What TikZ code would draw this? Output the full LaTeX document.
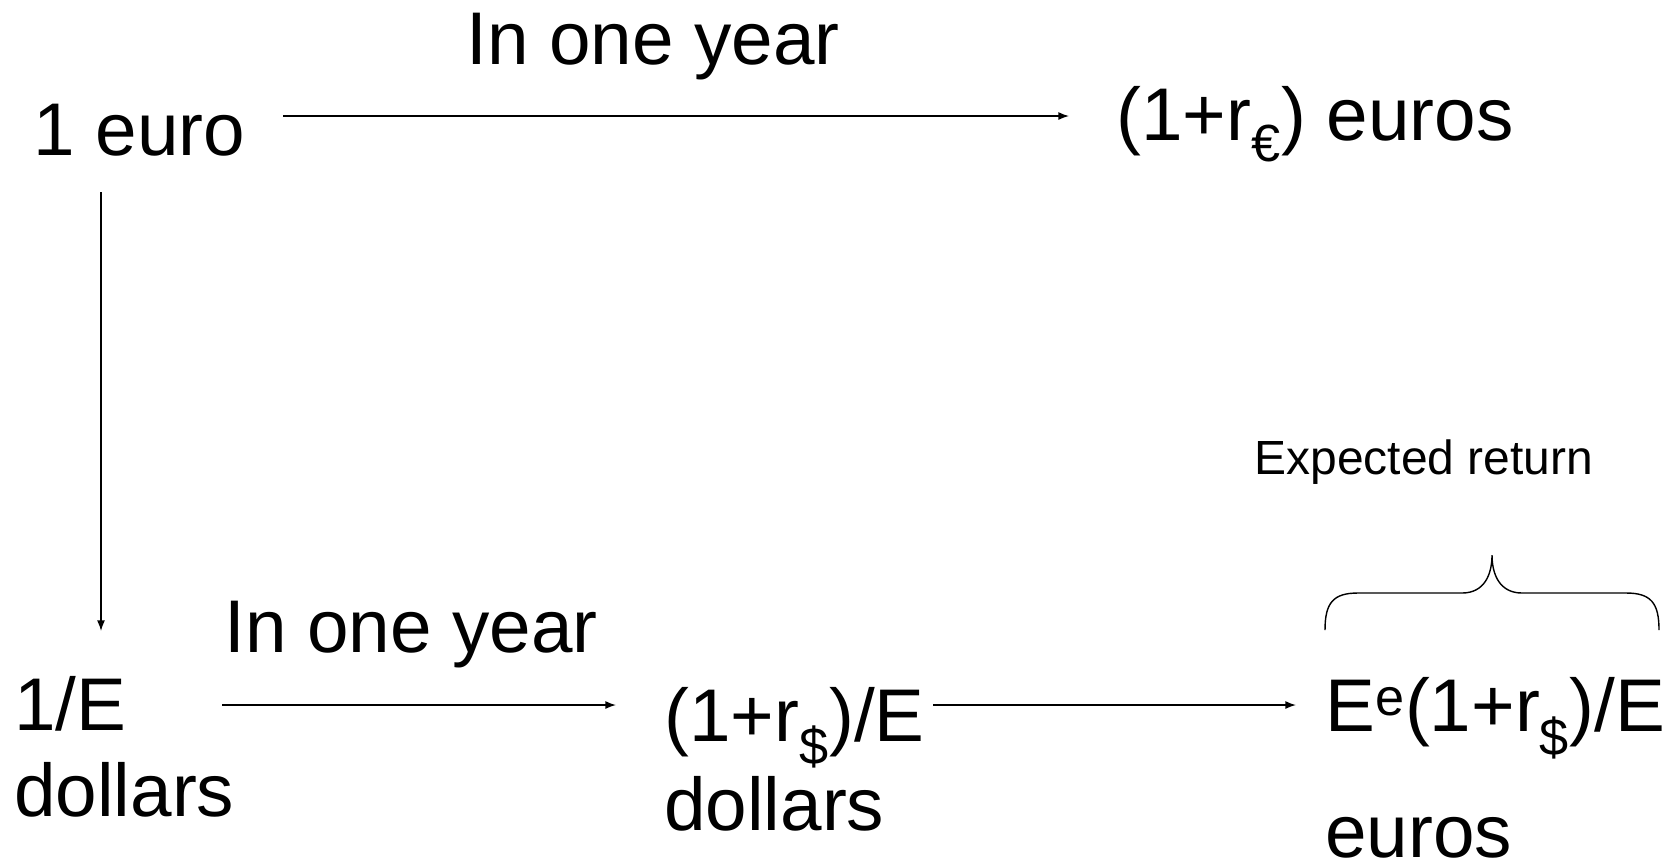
\documentclass[tikz,border=0pt]{standalone}
\usepackage{fontspec}
\setmainfont{Liberation Sans}
\usepackage{tikz}
\usetikzlibrary{arrows.meta, positioning, calc}

\tikzset{
    txt/.style={inner sep=0, anchor=base west, align=left, font=\fontsize{42.5}{49}\selectfont},
    small/.style={inner sep=0, anchor=base west, font=\fontsize{27.3}{32}\selectfont},
    arr/.style={line width=0.8pt, -{Latex[length=6pt, width=4.5pt]}}
}

\begin{document}
\begin{tikzpicture}[x=0.02cm, y=-0.02cm]
    \useasboundingbox (0,0) rectangle (1672,867);

    % Top row
    \node[txt] (euro) at (33,155) {1 euro};
    \node[txt] (reur) at (1116,140) {(1+r\textsubscript{€}) euros};
    \node[txt] (yeartop) at (466,64) {In one year};

    % Bottom row (base = last line)
    \node[txt] (invE) at (14,816) {1/E\\[-0.2pt]dollars};
    \node[txt] (rdol) at (664,830) {(1+r\textsubscript{\$})/E\\[1.5pt]dollars};
    \node[txt] (expE) at (1325,857) {E\textsuperscript{e}(1+r\textsubscript{\$})/E\\[22.5pt]euros};
    \node[txt] (yearbot) at (224,652) {In one year};
    \node[small] (expret) at (1254,474) {Expected return};

    % Arrows
    \draw[arr] ([shift={(38,-39)}]euro.base east) -- ([shift={(-47,-24)}]reur.base west);
    \draw[arr] ([shift={(68,37)}]euro.base west) -- ([shift={(87,-185)}]invE.base west);
    \draw[arr] ([shift={(208,-111)}]invE.base west) -- ([shift={(-48,-125)}]rdol.base west);
    \draw[arr] ([shift={(269,-125)}]rdol.base west) -- ([shift={(-29,-152)}]expE.base west);

    % Brace over the expected return
    \draw[line width=0.8pt] (1325,630) .. controls (1325,603) and (1333,593) .. (1358,593)
        -- (1462,593) .. controls (1484,593) and (1492,575) .. (1492,555)
        .. controls (1492,575) and (1500,593) .. (1522,593)
        -- (1626,593) .. controls (1651,593) and (1659,603) .. (1659,630);
\end{tikzpicture}
\end{document}
